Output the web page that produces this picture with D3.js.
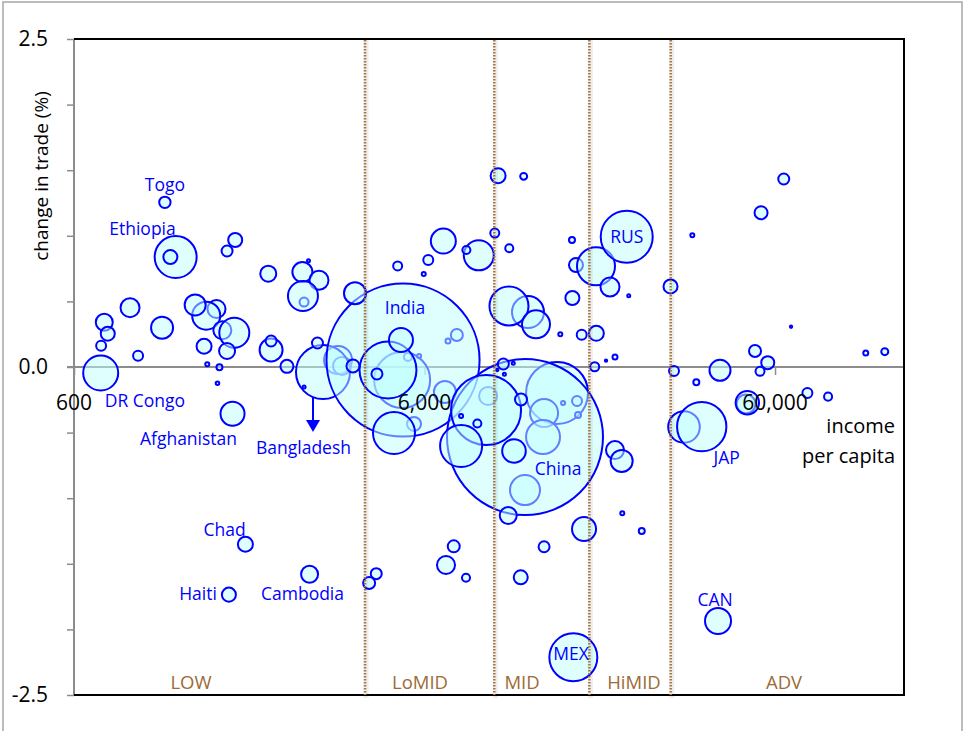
<!DOCTYPE html>
<html><head><meta charset="utf-8">
<script src="https://cdn.jsdelivr.net/npm/d3@7"></script>
<style>
html,body{margin:0;padding:0;background:#fff;}
svg{display:block;font-family:"Open Sans","Noto Sans",sans-serif;}
</style></head><body>
<svg id="chart" width="965" height="731"></svg>
<script>
// ---- data (drawing order) ----
const income = [1530,2720,3400,3490,5180,6860,5600,7420,7000,5790,5380,14330,13160,13070,11610,9110,16340,14910,16450,11840,33000,49600,
  3080,5210,11610,
  1170,1130,1090,1730,1640,2150,2690,3000,2800,2700,3800,867,732,749,717,1070,1430,1330,1590,1720,1410,1640,914,2190,2190,2430,2970,2720,1440,1560,1540,
  715,1700,1850,2820,1660,3750,4720,5140,4390,4910,6790,8570,7900,6150,5030,5970,9730,11510,9520,10470,10450,12480,14640,15810,16230,18510,20290,15850,
  22650,22950,16850,18550,18350,19770,20970,30200,10070,10750,10140,9680,8990,7630,10800,11310,8490,7630,10400,20970,21910,17110,22000,25000,13160,11290,
  7270,6910,7880,4370,4170,15950,34850,66660,52610,57200,54370,108900,123400,30900,41800,35780,74220,85020,50020,37070,41260,63540,54740];
const change = [0.442,0.495,0.053,0.008,-0.099,-0.191,-0.434,0.244,0.198,0.084,0.076,-0.198,-0.351,-0.534,-0.938,-0.221,-0.259,-0.274,-0.366,0.419,-0.457,-0.282,
  -0.038,0.053,-0.534,
  0.838,0.838,1.255,0.968,0.884,0.711,0.724,0.661,0.810,0.541,0.562,0.452,0.341,0.254,0.162,0.300,0.391,0.473,0.280,0.261,0.158,0.122,0.086,0.130,0.198,0.005,0.183,-0.152,0.021,-0.002,-0.124,
  -0.046,-0.356,-1.351,-1.580,-1.735,0.008,-0.023,0.206,-0.053,-0.503,0.960,0.851,0.892,0.816,0.770,0.709,1.458,1.453,1.021,0.905,0.465,0.325,0.249,0.968,0.777,0.768,0.610,0.526,
  0.993,0.543,0.246,0.257,0.002,0.048,0.076,0.614,0.023,0.028,-0.056,-0.023,-0.328,-0.602,-0.640,-0.248,-0.431,-0.373,-1.132,-0.633,-0.716,-1.235,-1.115,-1.250,-1.370,-1.603,
  -1.367,-1.509,-1.606,-1.575,-1.646,-2.213,1.004,0.307,0.122,0.033,-0.033,0.107,0.117,-0.030,-0.025,-0.117,-0.198,-0.226,-0.272,-0.455,-1.936,1.433,1.176];
const population = [18,4.5,43.5,18,174,26.9,10.9,8,1.4,0.9,3.6,213,43.5,64,50,18,5.5,0.9,2,56.8,55.4,20,
  162,1300,1350,
  97.9,10.9,7.2,10.9,6.7,14.2,22.2,20,0.5,49.9,26.9,20,16,10.9,5.5,26.9,43.5,24.5,18,49.9,12.5,14.2,5.5,29.3,6.7,9.4,6.7,0.5,0.9,2,0.7,
  68,32,12.5,16,10.9,9.4,180,32,6.7,97.9,34.7,49.9,3.6,5.5,4.5,0.9,12.5,2.7,4.5,3.6,84.4,43.5,0.9,2,10.9,80.1,20,10.9,
  150,0.5,5.5,12.5,4.5,0.3,1.4,10.9,6.7,0.5,0.5,0.3,272,97.9,30.9,8,3.6,0.9,16,18,26.9,32,0.9,2,6.7,10.9,
  8,18,3.6,6.7,8,127.8,0.9,0.3,8,9.4,4.5,1.4,2.7,5.5,24.5,2,5.5,3.6,30.4,135,37.5,6.7,9.4];

// country labels (text, anchor point in data units)
const labelText   = ["Togo","Ethiopia","DR Congo","Afghanistan","Bangladesh","Chad","Haiti","Cambodia","India","China","RUS","MEX","JAP","CAN"];
const labelIncome = [1090,941,956,1273,2710,1613,1355,2692,5278,14430,22650,15710,43690,40460];
const labelChange = [1.387,1.052,-0.255,-0.549,-0.614,-1.242,-1.730,-1.730,0.450,-0.777,0.993,-2.187,-0.690,-1.774];

// income groups
const groupNames = ["LOW","LoMID","MID","HiMID","ADV"];
const groupLabelIncome = [1294,5826,11390,23760,63660];
const groupThresholds = [4060,9490,17720,30240];

// axes
const xTicks = [600,6000,60000];
const yTicks = [-2.5,-2,-1.5,-1,-0.5,0,0.5,1,1.5,2,2.5];
const yLabelled = [-2.5,0,2.5];

// Bangladesh arrow
const arrowIncome = 2884, arrowFrom = -0.236, arrowTo = -0.495;

// ---- drawing ----
const svg = d3.select("#chart");
const L = 74, R = 904, T = 39, B = 695;
const x = d3.scaleLog().domain([600,140000]).range([L,R]);
const y = d3.scaleLinear().domain([-2.5,2.5]).range([B,T]);
const r = d3.scaleSqrt().domain([0,1350]).range([0,78]);
const fmtY = d => d3.format(".1f")(d).replace("\u2212","-");

// outer border
svg.append("rect").attr("x",3).attr("y",2).attr("width",959).attr("height",740)
  .attr("fill","none").attr("stroke","#a6a6a6").attr("stroke-width",1.5);

// zero line (x axis)
const xAxis = d3.axisBottom(x).tickValues(xTicks).tickSize(8).tickPadding(19).tickFormat(d3.format(","));
const gx = svg.append("g").attr("transform",`translate(0,${y(0)})`).call(xAxis);
gx.select(".domain").remove();
gx.selectAll(".tick line").attr("stroke","#8c8c8c").attr("stroke-width",1.5);
gx.selectAll(".tick text").remove();
svg.append("line").attr("x1",L-7).attr("x2",R).attr("y1",y(0)).attr("y2",y(0))
  .attr("stroke","#8c8c8c").attr("stroke-width",1.8);

// y axis
const yAxis = d3.axisLeft(y).tickValues(yTicks).tickSize(7).tickPadding(19)
  .tickFormat(d => yLabelled.includes(d) ? fmtY(d) : "");
const gy = svg.append("g").attr("transform",`translate(${L},0)`).call(yAxis);
gy.select(".domain").remove();
gy.selectAll(".tick line").attr("stroke","#8c8c8c").attr("stroke-width",1.5);
gy.selectAll(".tick text").attr("font-size",21).attr("fill","#000")
  .attr("font-family","'Open Sans',sans-serif");
svg.append("line").attr("x1",L).attr("x2",L).attr("y1",T).attr("y2",B)
  .attr("stroke","#8c8c8c").attr("stroke-width",2);

// frame top/right/bottom
svg.append("path").attr("d",`M${L},${T}H${R}V${B}H${L}`)
  .attr("fill","none").attr("stroke","#000").attr("stroke-width",2);

// bubbles
const idx = d3.range(income.length);
svg.append("g").selectAll("circle").data(idx).join("circle")
  .attr("cx",i=>x(income[i])).attr("cy",i=>y(change[i])).attr("r",i=>r(population[i]))
  .attr("fill","#c0ffff").attr("fill-opacity",0.5)
  .attr("stroke","#0000ff").attr("stroke-width",2);

// group threshold lines
const gl = svg.append("g");
gl.selectAll("line.sh").data(groupThresholds).join("line").attr("class","sh")
  .attr("x1",d=>x(d)+1).attr("x2",d=>x(d)+1).attr("y1",T+1).attr("y2",B+3)
  .attr("stroke","#000").attr("stroke-opacity",0.07).attr("stroke-width",5);
gl.selectAll("line.dt").data(groupThresholds).join("line").attr("class","dt")
  .attr("x1",d=>x(d)).attr("x2",d=>x(d)).attr("y1",T+1).attr("y2",B)
  .attr("stroke","#a8753e").attr("stroke-width",2.5).attr("stroke-dasharray","1.6 1.4");

// group labels
svg.append("g").selectAll("text").data(groupNames).join("text")
  .attr("x",(d,i)=>x(groupLabelIncome[i])).attr("y",y(-2.40)).attr("dy","0.36em")
  .attr("text-anchor","middle").attr("font-size",18.5).attr("fill","#9c6b36").text(d=>d);

// country labels
svg.append("g").selectAll("text").data(labelText).join("text")
  .attr("x",(d,i)=>x(labelIncome[i])).attr("y",(d,i)=>y(labelChange[i])).attr("dy","0.36em")
  .attr("text-anchor","middle").attr("font-size",17.5).attr("fill","#0000ff").text(d=>d);

// Bangladesh arrow
const ax = x(arrowIncome), ay1 = y(arrowFrom), ay2 = y(arrowTo);
svg.append("line").attr("x1",ax).attr("x2",ax).attr("y1",ay1).attr("y2",ay2-11)
  .attr("stroke","#0000ff").attr("stroke-width",2);
svg.append("path").attr("d",`M${ax-7},${ay2-12}L${ax+7},${ay2-12}L${ax},${ay2}Z`).attr("fill","#0000ff");

// x tick labels on top
svg.append("g").selectAll("text").data(xTicks).join("text")
  .attr("x",d=>x(d)).attr("y",y(0)+35).attr("dy","0.36em").attr("text-anchor","middle")
  .attr("font-size",21).attr("fill","#000").text(d=>d3.format(",")(d));

// x axis title
const xt = svg.append("text").attr("text-anchor","end").attr("font-size",20).attr("fill","#000");
xt.append("tspan").attr("x",895).attr("y",426).attr("dy","0.36em").text("income");
xt.append("tspan").attr("x",895).attr("y",456).attr("dy","0.36em").text("per capita");

// y axis title
svg.append("text").attr("transform","translate(41,176) rotate(-90)").attr("dy","0.36em")
  .attr("text-anchor","middle").attr("font-size",19).attr("fill","#000").text("change in trade (%)");
</script>
</body></html>
